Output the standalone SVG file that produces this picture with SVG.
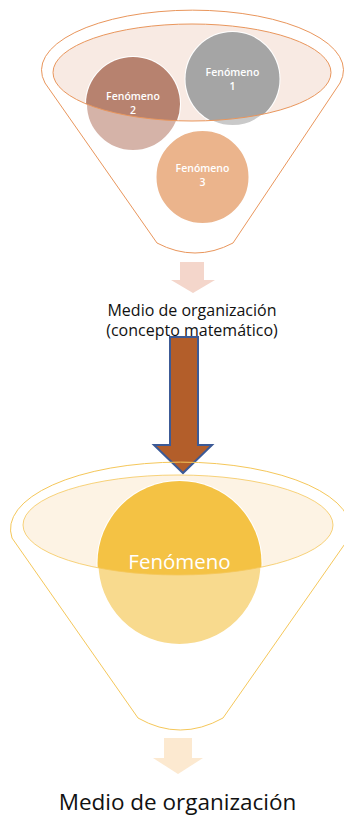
<svg xmlns="http://www.w3.org/2000/svg" width="344" height="816" viewBox="0 0 344 816">
<style>
.t{font-family:"Open Sans","Noto Sans",sans-serif;text-anchor:middle}
.ct{fill:#ffffff;font-size:10.5px;font-weight:600}
.lbl{fill:#111111}
</style>
<defs>
<clipPath id="topHole"><ellipse cx="192" cy="72.5" rx="139" ry="48.5"/></clipPath>
<clipPath id="botHole"><ellipse cx="178" cy="525" rx="155" ry="50"/></clipPath>
</defs>
<rect width="344" height="816" fill="#ffffff"/>

<g id="top-funnel">
<path d="M45,83 A151,60 0 1 1 340,83 L233,243 Q195,263 157,243 Z" fill="none" stroke="#E9965C" stroke-width="1"/>
<ellipse cx="192" cy="72.5" rx="139" ry="48.5" fill="#F8EAE3"/>
</g>

<g id="fenomeno1">
<circle cx="232.5" cy="79" r="47" fill="#C9C9C9" stroke="#ffffff" stroke-width="2"/>
<circle cx="232.5" cy="79" r="47" fill="#A5A5A5" clip-path="url(#topHole)"/>
<text class="t ct" x="232.5" y="76">Fenómeno</text>
<text class="t ct" x="232.5" y="90">1</text>
</g>
<g id="fenomeno2">
<circle cx="133" cy="104" r="47" fill="#D5B3A8" stroke="#ffffff" stroke-width="2"/>
<circle cx="133" cy="104" r="47" fill="#B7826F" clip-path="url(#topHole)"/>
<text class="t ct" x="133" y="100">Fenómeno</text>
<text class="t ct" x="133" y="114">2</text>
</g>
<g id="fenomeno3">
<circle cx="202.5" cy="177" r="47" fill="#EBB48C" stroke="#ffffff" stroke-width="2"/>
<text class="t ct" x="202.5" y="172">Fenómeno</text>
<text class="t ct" x="202.5" y="186">3</text>
</g>
<ellipse cx="192" cy="72.5" rx="139" ry="48.5" fill="none" stroke="#E9965C" stroke-width="1"/>

<g id="connectors">
<path d="M180,262 H204 V280 H215 L193,293 L171,280 H180 Z" fill="#F4D6CB"/>
<path d="M170,337 H198 V445 H212 L183,473 L154,445 H170 Z" fill="#B35E2A" stroke="#3C5A96" stroke-width="2" stroke-linejoin="miter"/>
<path d="M164,738 H192 V758 H203 L178,774 L153,758 H164 Z" fill="#FCE9D0"/>
</g>

<g id="label-medio1">
<text class="t lbl" x="192" y="316" font-size="16">Medio de organización</text>
<text class="t lbl" x="192" y="336" font-size="16">(concepto matemático)</text>
</g>

<g id="bottom-funnel">
<path d="M12,538 A170,67 0 1 1 349,538 L223,718 Q180,742 138,718 Z" fill="none" stroke="#F5C75A" stroke-width="1"/>
<ellipse cx="178" cy="525" rx="155" ry="50" fill="#FDF3E4"/>
</g>
<g id="fenomeno">
<circle cx="179.5" cy="563" r="82" fill="#F8DA8E" stroke="#ffffff" stroke-width="2"/>
<circle cx="179.5" cy="563" r="82" fill="#F4C244" clip-path="url(#botHole)"/>
<text class="t" x="179.5" y="569" font-size="20.5" fill="#ffffff">Fenómeno</text>
</g>
<ellipse cx="178" cy="525" rx="155" ry="50" fill="none" stroke="#F5C75A" stroke-width="1" stroke-opacity="0.8"/>

<g id="label-medio2">
<text class="t lbl" x="177.5" y="810" font-size="22.5">Medio de organización</text>
</g>
</svg>
